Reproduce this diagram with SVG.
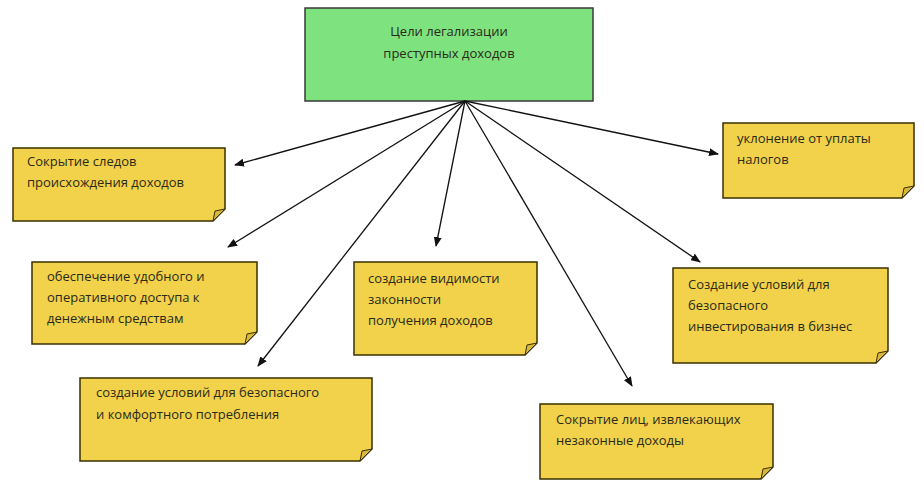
<svg xmlns="http://www.w3.org/2000/svg" width="924" height="496" viewBox="0 0 924 496">
<defs>
<style>
.n{fill:#f2d24a;stroke:#3a3000;stroke-width:1.5}
.c{fill:#d8b838;stroke:#3a3000;stroke-width:1}
text{font-family:"Open Sans","Liberation Sans",sans-serif;font-size:13px;fill:#2a2a1a}
.e line{stroke:#111;stroke-width:1.3;marker-end:url(#a)}
</style>
<marker id="a" markerWidth="10" markerHeight="8" refX="9" refY="4" orient="auto" markerUnits="userSpaceOnUse"><path d="M0,0L10,4L0,8z" fill="#111"/></marker>
</defs>
<rect width="924" height="496" fill="#fff"/>
<g id="top"><rect x="305" y="8" width="288" height="93" fill="#7ee27e" stroke="#3a3a3a" stroke-width="1.5"/>
<text x="449" y="36" text-anchor="middle" font-size="14">Цели легализации</text>
<text x="449" y="58" text-anchor="middle" font-size="14">преступных доходов</text></g>
<g class="e">
<line x1="465" y1="101" x2="235" y2="165"/>
<line x1="465" y1="101" x2="228" y2="247"/>
<line x1="465" y1="101" x2="258" y2="366"/>
<line x1="465" y1="101" x2="436" y2="246"/>
<line x1="465" y1="101" x2="632" y2="386"/>
<line x1="465" y1="101" x2="700" y2="262"/>
<line x1="465" y1="101" x2="718" y2="154"/>
</g>
<g id="n1"><path class="n" d="M13,148H225V209L213,221H13Z"/><path class="c" d="M213,221L225,209L215,211Z"/>
<text x="27" y="166">Сокрытие следов</text><text x="27" y="187">происхождения доходов</text></g>
<g id="n2"><path class="n" d="M32,262H257V332L245,344H32Z"/><path class="c" d="M245,344L257,332L247,334Z"/>
<text x="47" y="281">обеспечение удобного и</text><text x="47" y="302">оперативного доступа к</text><text x="47" y="323">денежным средствам</text></g>
<g id="n3"><path class="n" d="M80,378H372V449L360,461H80Z"/><path class="c" d="M360,461L372,449L362,451Z"/>
<text x="96" y="397">создание условий для безопасного</text><text x="96" y="419">и комфортного потребления</text></g>
<g id="n4"><path class="n" d="M354,262H537V343L525,355H354Z"/><path class="c" d="M525,355L537,343L527,345Z"/>
<text x="368" y="283">создание видимости</text><text x="368" y="304">законности</text><text x="368" y="325">получения доходов</text></g>
<g id="n5"><path class="n" d="M540,404H773V467L761,479H540Z"/><path class="c" d="M761,479L773,467L763,469Z"/>
<text x="556" y="424">Сокрытие лиц, извлекающих</text><text x="556" y="445">незаконные доходы</text></g>
<g id="n6"><path class="n" d="M723,123H914V186L902,198H723Z"/><path class="c" d="M902,198L914,186L904,188Z"/>
<text x="737" y="143">уклонение от уплаты</text><text x="737" y="164">налогов</text></g>
<g id="n7"><path class="n" d="M673,268H888V351L876,363H673Z"/><path class="c" d="M876,363L888,351L878,353Z"/>
<text x="688" y="289">Создание условий для</text><text x="688" y="310">безопасного</text><text x="688" y="331">инвестирования в бизнес</text></g>
</svg>
